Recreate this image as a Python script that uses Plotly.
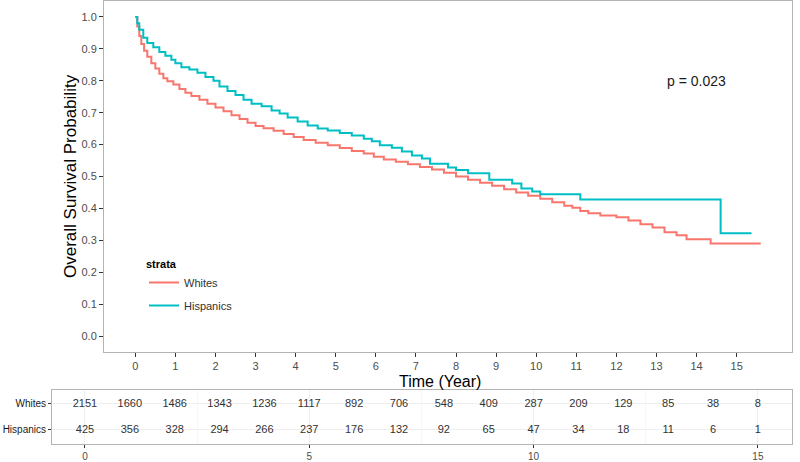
import plotly.graph_objects as go

# Kaplan-Meier step knots
whites_t = [0, 0.05, 0.1, 0.15, 0.22, 0.3, 0.4, 0.5, 0.6, 0.7, 0.8, 0.95, 1.1, 1.25, 1.4, 1.6, 1.8,
            2.0, 2.2, 2.4, 2.6, 2.8, 3.0, 3.2, 3.45, 3.7, 3.95, 4.2, 4.5, 4.8, 5.1, 5.4, 5.7, 5.95,
            6.2, 6.5, 6.8, 7.1, 7.4, 7.7, 8.0, 8.3, 8.6, 8.9, 9.2, 9.5, 9.8, 10.1, 10.4, 10.7, 10.9,
            11.1, 11.3, 11.6, 12.0, 12.3, 12.6, 12.9, 13.2, 13.5, 13.75, 14.35, 15.6]
whites_s = [1.0, 0.97, 0.94, 0.915, 0.894, 0.875, 0.855, 0.838, 0.822, 0.808, 0.798, 0.788, 0.774,
            0.762, 0.752, 0.740, 0.728, 0.716, 0.704, 0.692, 0.680, 0.668, 0.658, 0.651, 0.643,
            0.633, 0.624, 0.614, 0.606, 0.598, 0.589, 0.580, 0.572, 0.562, 0.553, 0.546, 0.538,
            0.530, 0.522, 0.512, 0.500, 0.490, 0.480, 0.471, 0.460, 0.450, 0.440, 0.430, 0.419,
            0.408, 0.402, 0.392, 0.385, 0.378, 0.372, 0.362, 0.350, 0.340, 0.325, 0.316, 0.303,
            0.29, 0.29]

hisp_t = [0, 0.05, 0.1, 0.2, 0.3, 0.45, 0.6, 0.75, 0.9, 1.0, 1.15, 1.35, 1.55, 1.75, 1.95, 2.1,
          2.3, 2.5, 2.7, 2.9, 3.15, 3.4, 3.6, 3.8, 4.05, 4.3, 4.55, 4.8, 5.1, 5.4, 5.7, 5.9, 6.1,
          6.4, 6.65, 6.9, 7.15, 7.35, 7.8, 8.0, 8.3, 8.83, 9.4, 9.63, 9.9, 10.1, 11.1, 14.6, 15.37]
hisp_s = [1.0, 0.98, 0.96, 0.935, 0.918, 0.905, 0.89, 0.878, 0.866, 0.855, 0.842, 0.835, 0.825,
          0.812, 0.800, 0.782, 0.768, 0.755, 0.740, 0.728, 0.720, 0.707, 0.697, 0.685, 0.672,
          0.660, 0.650, 0.644, 0.636, 0.628, 0.618, 0.610, 0.598, 0.590, 0.578, 0.566, 0.556,
          0.540, 0.528, 0.520, 0.510, 0.490, 0.478, 0.4625, 0.453, 0.444, 0.428, 0.322, 0.322]

# Number at risk table
risk_times = list(range(0, 16))
whites_risk = [2151, 1660, 1486, 1343, 1236, 1117, 892, 706, 548, 409, 287, 209, 129, 85, 38, 8]
hisp_risk = [425, 356, 328, 294, 266, 237, 176, 132, 92, 65, 47, 34, 18, 11, 6, 1]
strata = ["Whites", "Hispanics"]

RED = "#F8766D"
TEAL = "#00BFC4"
FONT = "Liberation Sans, Arial, sans-serif"

fig = go.Figure()
fig.add_trace(go.Scatter(x=whites_t, y=whites_s, mode="lines", line=dict(color=RED, width=2, shape="hv"),
                         name=strata[0], legendgroup="w", xaxis="x", yaxis="y"))
fig.add_trace(go.Scatter(x=hisp_t, y=hisp_s, mode="lines", line=dict(color=TEAL, width=2, shape="hv"),
                         name=strata[1], legendgroup="h", xaxis="x", yaxis="y"))

fig.add_trace(go.Scatter(x=risk_times, y=[strata[0]] * len(risk_times), mode="text",
                         text=[str(v) for v in whites_risk], textfont=dict(size=11, color="#333333", family=FONT),
                         showlegend=False, xaxis="x2", yaxis="y2", hoverinfo="skip"))
fig.add_trace(go.Scatter(x=risk_times, y=[strata[1]] * len(risk_times), mode="text",
                         text=[str(v) for v in hisp_risk], textfont=dict(size=11, color="#333333", family=FONT),
                         showlegend=False, xaxis="x2", yaxis="y2", hoverinfo="skip"))

fig.update_layout(
    width=800, height=462,
    margin=dict(l=0, r=0, t=0, b=0, autoexpand=False),
    paper_bgcolor="white", plot_bgcolor="white",
    font=dict(family=FONT, color="#4d4d4d"),
    xaxis=dict(domain=[0.13, 0.99], anchor="y", range=[-0.78, 16.38], tickmode="array",
               tickvals=list(range(0, 16)), ticks="outside", ticklen=4, tickcolor="#333333",
               showline=True, mirror=True, linecolor="#b3b3b3", linewidth=1, showgrid=False,
               zeroline=False, tickfont=dict(size=11, color="#4d4d4d"), automargin=False),
    yaxis=dict(domain=[0.238, 0.998], anchor="x", range=[-0.05, 1.05], tickmode="array",
               tickvals=[i / 10 for i in range(11)], tickformat=".1f", ticks="outside", ticklen=4,
               tickcolor="#333333", showline=True, mirror=True, linecolor="#b3b3b3", linewidth=1,
               showgrid=False, zeroline=False, tickfont=dict(size=11, color="#4d4d4d"), automargin=False),
    xaxis2=dict(domain=[0.065, 0.99], anchor="y2", range=[-0.735, 15.76], tickmode="array",
                tickvals=[0, 5, 10, 15], ticks="outside", ticklen=3, tickcolor="#333333",
                showline=True, mirror=True, linecolor="#b3b3b3", linewidth=1, showgrid=True,
                gridcolor="#efefef", zeroline=False, tickfont=dict(size=10, color="#4d4d4d"),
                minor=dict(dtick=2.5, tick0=0, showgrid=True, gridcolor="#f6f6f6", ticks=""),
                automargin=False),
    yaxis2=dict(domain=[0.039, 0.156], anchor="x2", type="category",
                categoryorder="array", categoryarray=[strata[1], strata[0]], range=[-0.54, 1.54],
                ticks="outside", ticklen=3, tickcolor="#333333", showline=True, mirror=True,
                linecolor="#b3b3b3", linewidth=1, showgrid=True, gridcolor="#efefef",
                zeroline=False, tickfont=dict(size=10, color="#1a1a1a"), automargin=False),
    legend=dict(x=0.18, y=0.451, xanchor="left", yanchor="top", bgcolor="rgba(0,0,0,0)",
                title=dict(text="<b>strata</b>", font=dict(size=11, color="#000000")),
                font=dict(size=11, color="#333333"), itemwidth=30, tracegroupgap=4),
    annotations=[
        dict(text="p = 0.023", x=14.0, y=0.80, xref="x", yref="y", showarrow=False,
             font=dict(size=14, color="#1a1a1a")),
        dict(text="Time (Year)", x=0.55, y=1 - 381 / 462, xref="paper", yref="paper", showarrow=False,
             font=dict(size=16, color="#000000"), xanchor="center", yanchor="middle"),
        dict(text="Overall Survival Probability", x=70 / 800, y=1 - 176 / 462, xref="paper", yref="paper",
             showarrow=False, textangle=-90, font=dict(size=17, color="#000000"),
             xanchor="center", yanchor="middle"),
    ],
)

fig.write_html("out.html", post_script="document.body.style.margin='0';",
               config={"displayModeBar": False})
